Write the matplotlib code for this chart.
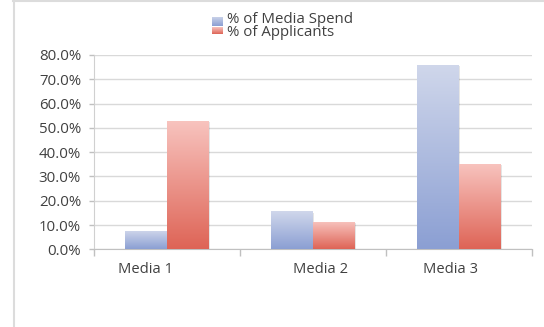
import matplotlib
matplotlib.use("Agg")
import matplotlib.pyplot as plt
import numpy as np
from matplotlib.colors import LinearSegmentedColormap
from matplotlib.patches import Rectangle
from matplotlib.lines import Line2D

categories = ["Media 1", "Media 2", "Media 3"]
series_names = ["% of Media Spend", "% of Applicants"]
media_spend = [7.6, 15.6, 75.8]
applicants = [52.9, 11.4, 35.1]
y_ticks = [0, 10, 20, 30, 40, 50, 60, 70, 80]
label_offsets = [-0.147, 0.053, -0.055]

plt.rcParams['font.family'] = ['Open Sans', 'DejaVu Sans']
TXT = '#404040'

W, H = 544, 327
fig = plt.figure(figsize=(W / 100, H / 100), dpi=100)
fig.patch.set_facecolor('white')

# outer chart frame (left + top)
fig.add_artist(Line2D([13.5 / W, 13.5 / W], [0, 1], transform=fig.transFigure,
                      color='#dcdcdc', lw=1.5))
fig.add_artist(Line2D([13 / W, 1], [1 - 0.8 / H, 1 - 0.8 / H], transform=fig.transFigure,
                      color='#dcdcdc', lw=1.5))

ax = fig.add_axes([93.5 / W, 1 - 249.3 / H, (531.5 - 93.5) / W, (249.3 - 55) / H])
ax.set_xlim(-0.5, 2.5)
ax.set_ylim(0, 80)

blue_cmap = LinearSegmentedColormap.from_list('b', ['#8b9fd3', '#d0d7eb'])
red_cmap = LinearSegmentedColormap.from_list('r', ['#de6456', '#f8c4bf'])

w = 0.284
x = np.arange(len(categories))
grad = np.linspace(0, 1, 256).reshape(-1, 1)

def draw(xpos, vals, cmap):
    bars = ax.bar(xpos, vals, width=w, color='none', edgecolor='none', zorder=3)
    for b in bars:
        x0, y0 = b.get_x(), b.get_y()
        bw, bh = b.get_width(), b.get_height()
        # soft shadow
        ax.add_patch(Rectangle((x0 + 0.012, 0), bw, bh - 0.5, facecolor='#000000',
                               alpha=0.10, edgecolor='none', zorder=2))
        im = ax.imshow(grad, cmap=cmap, origin='lower', aspect='auto',
                       extent=[x0, x0 + bw, y0, y0 + bh], zorder=3, interpolation='bilinear')
        im.set_clip_path(b)
    return bars

draw(x - w / 2, media_spend, blue_cmap)
draw(x + w / 2, applicants, red_cmap)
ax.set_xlim(-0.5, 2.5)
ax.set_ylim(0, 80)

ax.set_yticks(y_ticks)
ax.set_yticklabels([f"{v:.1f}%" for v in y_ticks])
ax.yaxis.grid(True, color='#d9d9d9', lw=1.0, zorder=0)
ax.set_axisbelow(True)

ax.set_xticks(x + np.array(label_offsets))
ax.set_xticklabels(categories)
ax.set_xticks([-0.5, 0.5, 1.5, 2.5], minor=True)
ax.tick_params(axis='x', which='major', length=0, pad=9, labelsize=10.6, labelcolor=TXT)
ax.tick_params(axis='x', which='minor', length=5, color='#c0c0c0', width=1)
ax.tick_params(axis='y', length=3.5, color='#c0c0c0', width=1, pad=5.5, labelsize=10.8, labelcolor=TXT)

for s in ['top', 'right']:
    ax.spines[s].set_visible(False)
ax.spines['left'].set_color('#d0d0d0')
ax.spines['bottom'].set_color('#c0c0c0')

# legend (manual)
def legend_item(ytop, ybot, cmap, label, ytext):
    lax = fig.add_axes([211.7 / W, 1 - ybot / H, 10.3 / W, (ybot - ytop) / H])
    lax.imshow(grad, cmap=cmap, origin='lower', aspect='auto', extent=[0, 1, 0, 1])
    lax.axis('off')
    fig.text(227 / W, 1 - ytext / H, label, fontsize=10.8, color=TXT, va='center', ha='left')

legend_item(17, 26.5, blue_cmap, series_names[0], 19.5)
legend_item(27, 34, red_cmap, series_names[1], 33)

fig.savefig('out.png', dpi=100)
